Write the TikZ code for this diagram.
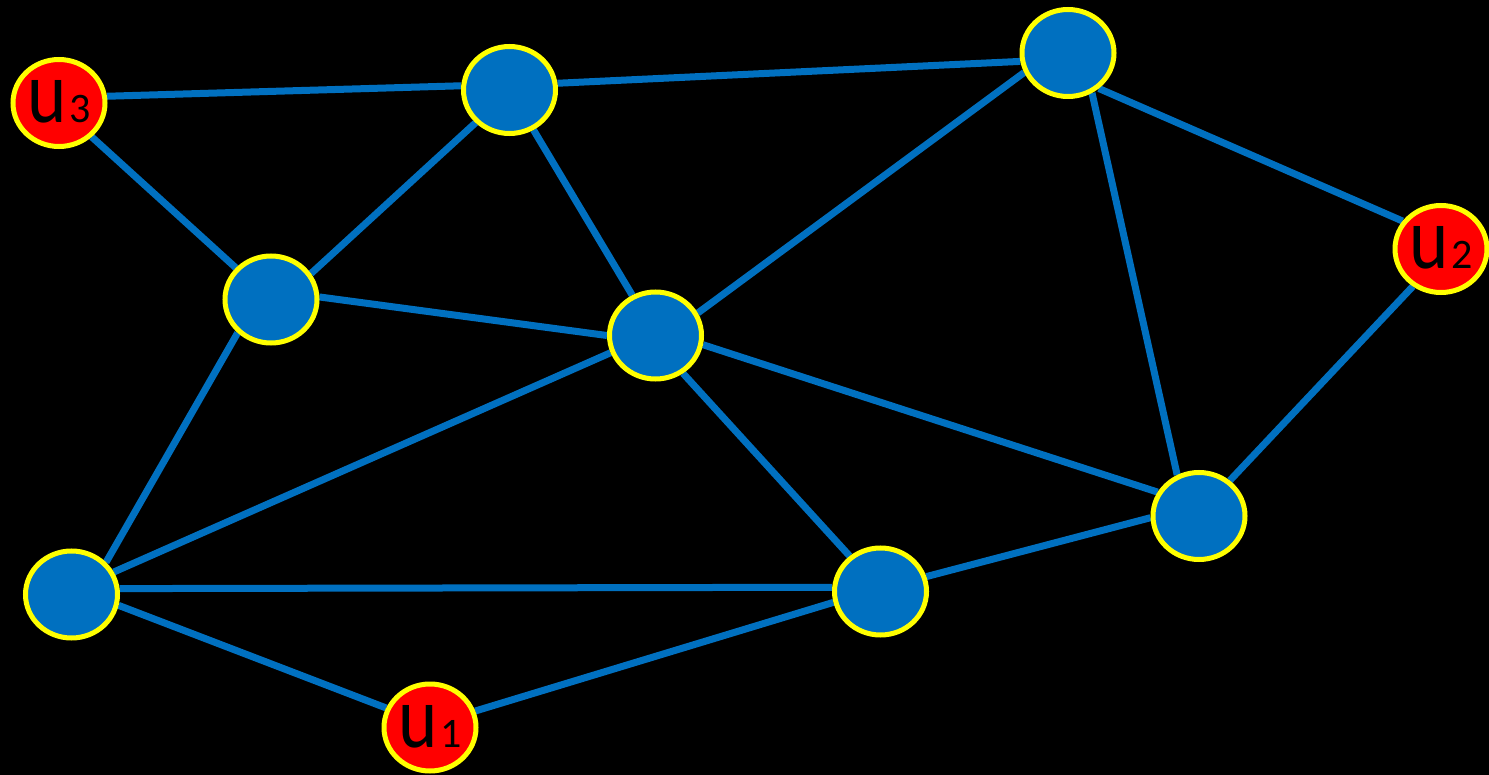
\documentclass[tikz,border=0pt]{standalone}
\usepackage{fontspec}
\setmainfont{Carlito}
\usetikzlibrary{shapes.geometric}
\definecolor{nblue}{HTML}{0070C0}
\definecolor{nyellow}{HTML}{FFFF00}
\definecolor{nred}{HTML}{FF0000}
\pgfdeclarelayer{edgelayer}
\pgfsetlayers{edgelayer,main}
\tikzset{
  vert/.style={ellipse, draw=nyellow, line width=2.5pt, fill=nblue, minimum width=46pt, minimum height=43.5pt, inner sep=0pt},
  term/.style={vert, fill=nred, text=black},
  edge/.style={draw=nblue, line width=3.5pt}
}
\newcommand{\ulab}[1]{\raisebox{1.5pt}{\scalebox{0.85}[1]{\fontsize{44}{44}\selectfont u}\hspace{1.5pt}\fontsize{21}{21}\selectfont #1}}
\begin{document}
\begin{tikzpicture}[x=0.5pt,y=-0.5pt]
\useasboundingbox (0,0) rectangle (1489,775);
\node[term] (u3) at (59,103) {\ulab{3}};
\node[vert] (A) at (509.5,90) {};
\node[vert] (B) at (1068,53) {};
\node[term] (u2) at (1441,249) {\ulab{2}};
\node[vert] (C) at (271,299.5) {};
\node[vert] (D) at (655.5,335.5) {};
\node[vert] (E) at (1199,516) {};
\node[vert] (F) at (71.5,594.5) {};
\node[vert] (G) at (880.5,591.5) {};
\node[term] (u1) at (430,727.5) {\ulab{1}};
\begin{pgfonlayer}{edgelayer}
\fill[black] (0,0) rectangle (1489,775);
\foreach \a/\b in {u3.8.3/A.175.2, A.8.8/B.190.6, u3.-46.7/C.138.8, A.224.6/C.33.2,
  A.-59.6/D.120.1, B.204.9/D.28.9, B.-49.1/u2.144.7, B.-59/E.118.2,
  u2.233.6/E.49.5, C.3/D.180.6, C.225.4/F.43.3, D.201.2/F.28,
  D.-11.5/E.150.4, D.-54.8/G.131.6, F.7.6/G.175.8, F.-13.9/u1.156.1,
  u1.20.6/G.193.9, G.18.4/E.182.4}
  \draw[edge] (\a) -- (\b);
\end{pgfonlayer}
\end{tikzpicture}
\end{document}
